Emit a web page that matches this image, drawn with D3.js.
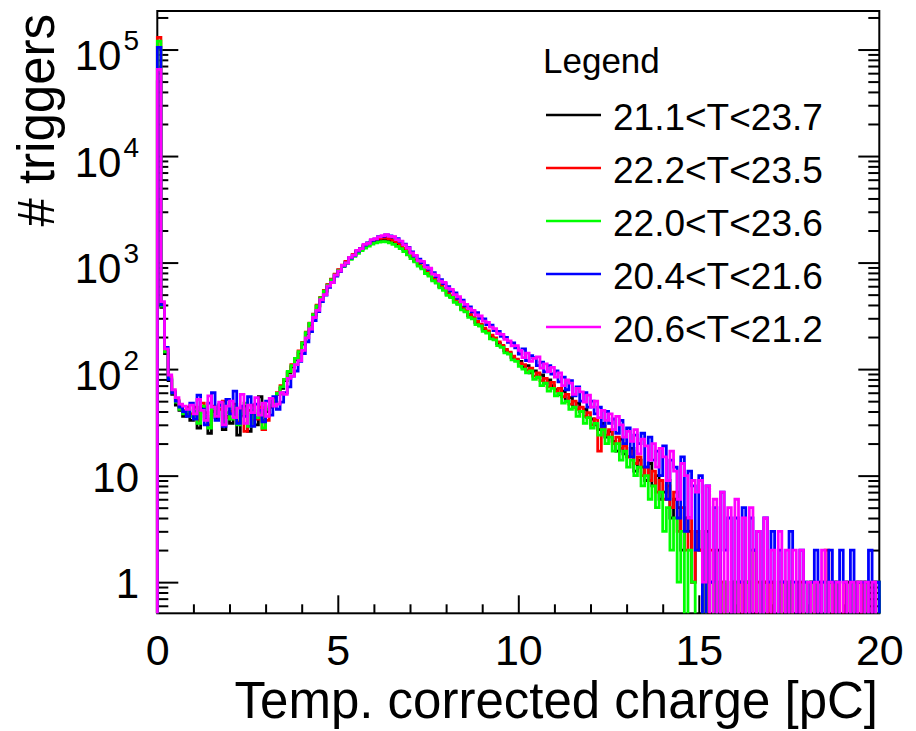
<!DOCTYPE html>
<html>
<head>
<meta charset="utf-8">
<script src="https://cdn.jsdelivr.net/npm/d3@7"></script>
<style>
  body { margin: 0; background: #fff; }
  svg { display: block; font-family: "Liberation Sans", Arial, Helvetica, sans-serif; }
</style>
</head>
<body>
<svg id="chart" width="916" height="731"></svg>
<script>
// bins are 0.1 pC wide, starting at 0 pC (rows of 10 = 1 pC)
const binWidth = 0.1

const seriesLabels = ["21.1<T<23.7", "22.2<T<23.5", "22.0<T<23.6", "20.4<T<21.6", "20.6<T<21.2"]
const seriesColors = ["#000000", "#ff0000", "#00ff00", "#0000ff", "#ff00ff"]

const blackCounts = [
  50000, 380, 140, 78, 58, 46, 41, 36, 38, 33,
  37, 28, 44, 34, 25, 40, 35, 46, 27, 36,
  31, 42, 24, 37, 45, 26, 38, 30, 55, 33,
  40, 44, 50, 58, 66, 78, 92, 105, 122, 142,
  172, 215, 265, 320, 390, 462, 540, 615, 690, 770,
  850, 935, 1010, 1100, 1180, 1260, 1340, 1420, 1490, 1550,
  1600, 1640, 1660, 1650, 1620, 1570, 1500, 1420, 1330, 1230,
  1135, 1045, 955, 895, 815, 765, 695, 650, 595, 560,
  505, 480, 435, 410, 370, 348, 318, 300, 272, 258,
  236, 222, 200, 192, 174, 163, 148, 142, 128, 122,
  118, 104, 108, 92, 96, 84, 88, 74, 79, 70,
  64, 58, 62, 50, 54, 44, 48, 40, 42, 35,
  34, 30, 27, 31, 23, 26, 21, 17, 22, 16,
  15, 18, 11, 14, 12, 9, 13, 8, 10, 6,
  7, 9, 4, 6, 5, 2, 4, 3, 1, 3,
  2, 0, 3, 1, 0, 2, 0, 1, 0, 1,
  0, 1, 0, 1, 0, 2, 0, 0, 1, 0,
  1, 0, 0, 1, 0, 1, 0, 1, 0, 0,
  0, 1, 0, 1, 0, 0, 1, 0, 1, 0,
  0, 1, 0, 0, 1, 0, 1, 0, 1, 1
]

const redCounts = [
  130000, 410, 150, 84, 62, 51, 45, 41, 44, 38,
  44, 33, 48, 39, 30, 45, 37, 42, 50, 35,
  40, 47, 32, 43, 26, 41, 46, 34, 44, 27,
  33, 45, 52, 60, 70, 80, 94, 110, 126, 148,
  178, 222, 270, 328, 398, 470, 548, 625, 700, 780,
  860, 945, 1025, 1115, 1195, 1280, 1360, 1440, 1520, 1585,
  1640, 1690, 1710, 1700, 1670, 1610, 1540, 1450, 1360, 1260,
  1160, 1065, 990, 910, 845, 780, 720, 665, 615, 570,
  525, 490, 450, 420, 382, 358, 326, 308, 280, 264,
  242, 228, 208, 196, 180, 167, 153, 144, 132, 124,
  114, 110, 98, 102, 86, 92, 78, 82, 68, 75,
  62, 66, 55, 58, 47, 50, 42, 44, 36, 39,
  30, 34, 17, 29, 24, 27, 20, 23, 18, 19,
  15, 17, 13, 15, 10, 12, 9, 11, 7, 9,
  6, 8, 5, 7, 3, 5, 2, 4, 1, 3,
  2, 1, 0, 2, 1, 0, 1, 0, 0, 1,
  0, 1, 0, 1, 0, 0, 1, 0, 1, 0,
  1, 0, 0, 1, 0, 1, 0, 0, 1, 0,
  0, 1, 0, 0, 1, 2, 0, 1, 0, 0,
  1, 0, 0, 1, 0, 1, 0, 0, 1, 0
]

const greenCounts = [
  120000, 390, 145, 82, 60, 49, 42, 38, 41, 36,
  40, 31, 45, 36, 28, 43, 37, 47, 32, 39,
  34, 44, 30, 38, 48, 29, 41, 35, 39, 28,
  42, 46, 51, 59, 68, 80, 95, 108, 126, 146,
  176, 220, 268, 325, 392, 465, 540, 615, 688, 762,
  840, 915, 990, 1070, 1145, 1220, 1295, 1370, 1430, 1490,
  1530, 1560, 1575, 1565, 1530, 1480, 1420, 1350, 1270, 1180,
  1090, 1015, 925, 875, 790, 748, 675, 642, 578, 550,
  492, 470, 424, 405, 360, 344, 306, 296, 262, 254,
  226, 218, 192, 188, 166, 160, 142, 138, 122, 118,
  106, 100, 92, 96, 80, 84, 70, 74, 62, 66,
  56, 59, 48, 50, 42, 44, 36, 40, 31, 35,
  28, 31, 24, 27, 20, 23, 17, 20, 14, 17,
  12, 14, 10, 12, 8, 10, 6, 8, 5, 7,
  3, 5, 2, 4, 1, 3, 0, 2, 1, 0,
  0, 1, 0, 0, 1, 0, 0, 1, 0, 0,
  1, 0, 0, 1, 0, 0, 0, 1, 0, 0,
  0, 0, 1, 0, 0, 1, 0, 0, 0, 1,
  0, 1, 0, 0, 0, 1, 0, 0, 1, 0,
  0, 0, 1, 0, 0, 0, 1, 0, 0, 1
]

const blueCounts = [
  105000, 400, 160, 80, 60, 50, 44, 40, 36, 48,
  34, 57, 42, 30, 48, 60, 33, 46, 29, 52,
  38, 62, 31, 45, 36, 55, 29, 47, 41, 32,
  50, 37, 55, 42, 49, 60, 68, 86, 96, 118,
  140, 180, 225, 285, 346, 430, 495, 585, 648, 745,
  822, 925, 990, 1100, 1170, 1285, 1350, 1460, 1530, 1620,
  1660, 1750, 1760, 1815, 1780, 1730, 1680, 1570, 1490, 1390,
  1260, 1150, 1075, 1000, 935, 865, 805, 740, 692, 635,
  595, 540, 518, 462, 444, 392, 384, 344, 338, 300,
  296, 262, 258, 230, 226, 203, 198, 178, 176, 158,
  138, 155, 120, 134, 128, 108, 116, 94, 108, 90,
  96, 76, 84, 64, 78, 56, 68, 50, 60, 44,
  50, 38, 44, 29, 40, 31, 34, 25, 33, 20,
  28, 15, 24, 20, 25, 12, 23, 14, 17, 10,
  19, 6, 14, 12, 4, 15, 3, 11, 8, 2,
  10, 0, 8, 1, 5, 0, 7, 2, 4, 0,
  4, 1, 5, 0, 4, 2, 3, 0, 4, 1,
  3, 0, 2, 1, 0, 3, 1, 0, 2, 1,
  0, 1, 2, 0, 1, 0, 2, 1, 0, 2,
  1, 0, 2, 0, 1, 1, 0, 2, 0, 1
]

const magentaCounts = [
  65000, 430, 155, 88, 64, 54, 47, 45, 42, 46,
  38, 52, 41, 33, 56, 44, 36, 49, 30, 45,
  50, 35, 43, 58, 31, 46, 39, 54, 37, 48,
  36, 53, 45, 47, 60, 58, 82, 86, 110, 120,
  150, 196, 238, 305, 356, 448, 500, 601, 650, 762,
  830, 940, 995, 1120, 1175, 1300, 1350, 1485, 1515, 1640,
  1680, 1740, 1790, 1830, 1760, 1755, 1645, 1590, 1465, 1370,
  1230, 1170, 1040, 1025, 905, 885, 780, 760, 670, 652,
  575, 560, 500, 478, 428, 405, 370, 356, 322, 315,
  282, 274, 248, 240, 215, 212, 190, 184, 165, 166,
  150, 128, 141, 118, 126, 130, 102, 112, 95, 104,
  84, 92, 70, 79, 74, 58, 66, 61, 49, 57,
  44, 50, 35, 41, 33, 38, 27, 36, 30, 23,
  26, 21, 27, 16, 22, 19, 14, 20, 12, 18,
  15, 9, 17, 11, 6, 13, 10, 4, 9, 7,
  9, 1, 8, 0, 6, 0, 7, 0, 5, 0,
  6, 0, 4, 0, 5, 0, 3, 0, 4, 0,
  2, 0, 3, 0, 2, 0, 2, 0, 2, 0,
  1, 0, 1, 0, 2, 0, 1, 0, 1, 0,
  1, 0, 1, 0, 1, 0, 1, 0, 1, 0
]

const allCounts = [blackCounts, redCounts, greenCounts, blueCounts, magentaCounts]

const xMajorTicks = [0, 5, 10, 15, 20]
const xMinorTicks = [1, 2, 3, 4, 6, 7, 8, 9, 11, 12, 13, 14, 16, 17, 18, 19]
const yMajorTicks = [1, 10, 100, 1000, 10000, 100000]
const yTickLabels = [
  { base: "1", exp: "" },
  { base: "10", exp: "" },
  { base: "10", exp: "2" },
  { base: "10", exp: "3" },
  { base: "10", exp: "4" },
  { base: "10", exp: "5" }
]

const frame = { left: 157.3, right: 879.3, top: 11, bottom: 613.3 }

const svg = d3.select("#chart")

const xScale = d3.scaleLinear().domain([0, 20]).range([frame.left, frame.right])
const yScale = d3.scaleLog().domain([0.51, 2.3e5]).range([frame.bottom, frame.top])

const yMinorTicks = yScale.ticks().filter(t => !yMajorTicks.includes(t) && t > 0.51)

const styleAxis = g => {
  g.select(".domain").remove()
  g.selectAll(".tick line").attr("stroke", "#000").attr("stroke-width", 2)
}

// x axis
svg.append("g")
  .attr("transform", `translate(0,${frame.bottom})`)
  .call(d3.axisBottom(xScale).tickValues(xMajorTicks).tickSizeInner(-18).tickSizeOuter(0)
    .tickPadding(21).tickFormat(d3.format("d")))
  .call(styleAxis)
  .call(g => g.selectAll(".tick text").attr("font-size", 43).attr("fill", "#000")
    .attr("font-family", "'Liberation Sans', Arial, sans-serif"))

svg.append("g")
  .attr("transform", `translate(0,${frame.bottom})`)
  .call(d3.axisBottom(xScale).tickValues(xMinorTicks).tickSizeInner(-9).tickSizeOuter(0).tickFormat(""))
  .call(styleAxis)

// y axis, left and mirrored right
const drawYAxis = (axisFn, x, size) => {
  svg.append("g")
    .attr("transform", `translate(${x},0)`)
    .call(axisFn(yScale).tickValues(yMajorTicks).tickSizeInner(-size).tickSizeOuter(0).tickFormat(""))
    .call(styleAxis)
  svg.append("g")
    .attr("transform", `translate(${x},0)`)
    .call(axisFn(yScale).tickValues(yMinorTicks).tickSizeInner(-11).tickSizeOuter(0).tickFormat(""))
    .call(styleAxis)
}
drawYAxis(d3.axisLeft, frame.left, 21)
drawYAxis(d3.axisRight, frame.right, 21)

const yLabels = svg.append("g")
  .selectAll("text")
  .data(yMajorTicks)
  .enter()
  .append("text")
  .attr("x", 139)
  .attr("y", (d, i) => yScale(d) + (yTickLabels[i].exp ? 20.7 : 16))
  .attr("text-anchor", "end")
  .attr("fill", "#000")

yLabels.append("tspan")
  .attr("font-size", 42)
  .text((d, i) => yTickLabels[i].base)

yLabels.filter((d, i) => yTickLabels[i].exp)
  .append("tspan")
  .attr("font-size", 28)
  .attr("dx", 2)
  .attr("dy", -20)
  .text(d => yTickLabels[yMajorTicks.indexOf(d)].exp)

// frame
svg.append("rect")
  .attr("x", frame.left)
  .attr("y", frame.top)
  .attr("width", frame.right - frame.left)
  .attr("height", frame.bottom - frame.top)
  .attr("fill", "none")
  .attr("stroke", "#000")
  .attr("stroke-width", 2)

// histograms
svg.append("clipPath")
  .attr("id", "plotClip")
  .append("rect")
  .attr("x", frame.left - 2)
  .attr("y", frame.top)
  .attr("width", frame.right - frame.left + 4)
  .attr("height", frame.bottom - frame.top)

const toY = v => v > 0 ? yScale(v) : frame.bottom + 10

const histLine = d3.line()
  .x(d => xScale(d.x))
  .y(d => toY(d.v))
  .curve(d3.curveStepAfter)

const histPoints = counts => {
  const pts = [{ x: 0, v: 0 }]
  counts.forEach((v, i) => pts.push({ x: i * binWidth, v: v }))
  pts.push({ x: 20, v: counts[counts.length - 1] })
  pts.push({ x: 20, v: 0 })
  return pts
}

svg.append("g")
  .attr("clip-path", "url(#plotClip)")
  .selectAll("path")
  .data(allCounts)
  .enter()
  .append("path")
  .attr("d", d => histLine(histPoints(d)))
  .attr("fill", "none")
  .attr("stroke", (d, i) => seriesColors[i])
  .attr("stroke-width", 2.8)

// legend
const legend = svg.append("g")

legend.append("text")
  .attr("x", 543)
  .attr("y", 73)
  .attr("font-size", 35)
  .attr("fill", "#000")
  .text("Legend")

const entries = legend.selectAll(".entry")
  .data(seriesLabels)
  .enter()
  .append("g")
  .classed("entry", true)
  .attr("transform", (d, i) => `translate(0,${115 + i * 53})`)

entries.append("line")
  .attr("x1", 546)
  .attr("x2", 601)
  .attr("stroke", (d, i) => seriesColors[i])
  .attr("stroke-width", 2.5)

entries.append("text")
  .attr("x", 613)
  .attr("y", 14.5)
  .attr("font-size", 37)
  .attr("fill", "#000")
  .text(d => d)

// axis titles
svg.append("text")
  .attr("x", 878)
  .attr("y", 718)
  .attr("text-anchor", "end")
  .attr("font-size", 51)
  .attr("fill", "#000")
  .text("Temp. corrected charge [pC]")

svg.append("text")
  .attr("transform", "translate(54,14) rotate(-90)")
  .attr("text-anchor", "end")
  .attr("font-size", 51)
  .attr("fill", "#000")
  .text("# triggers")
</script>
</body>
</html>
